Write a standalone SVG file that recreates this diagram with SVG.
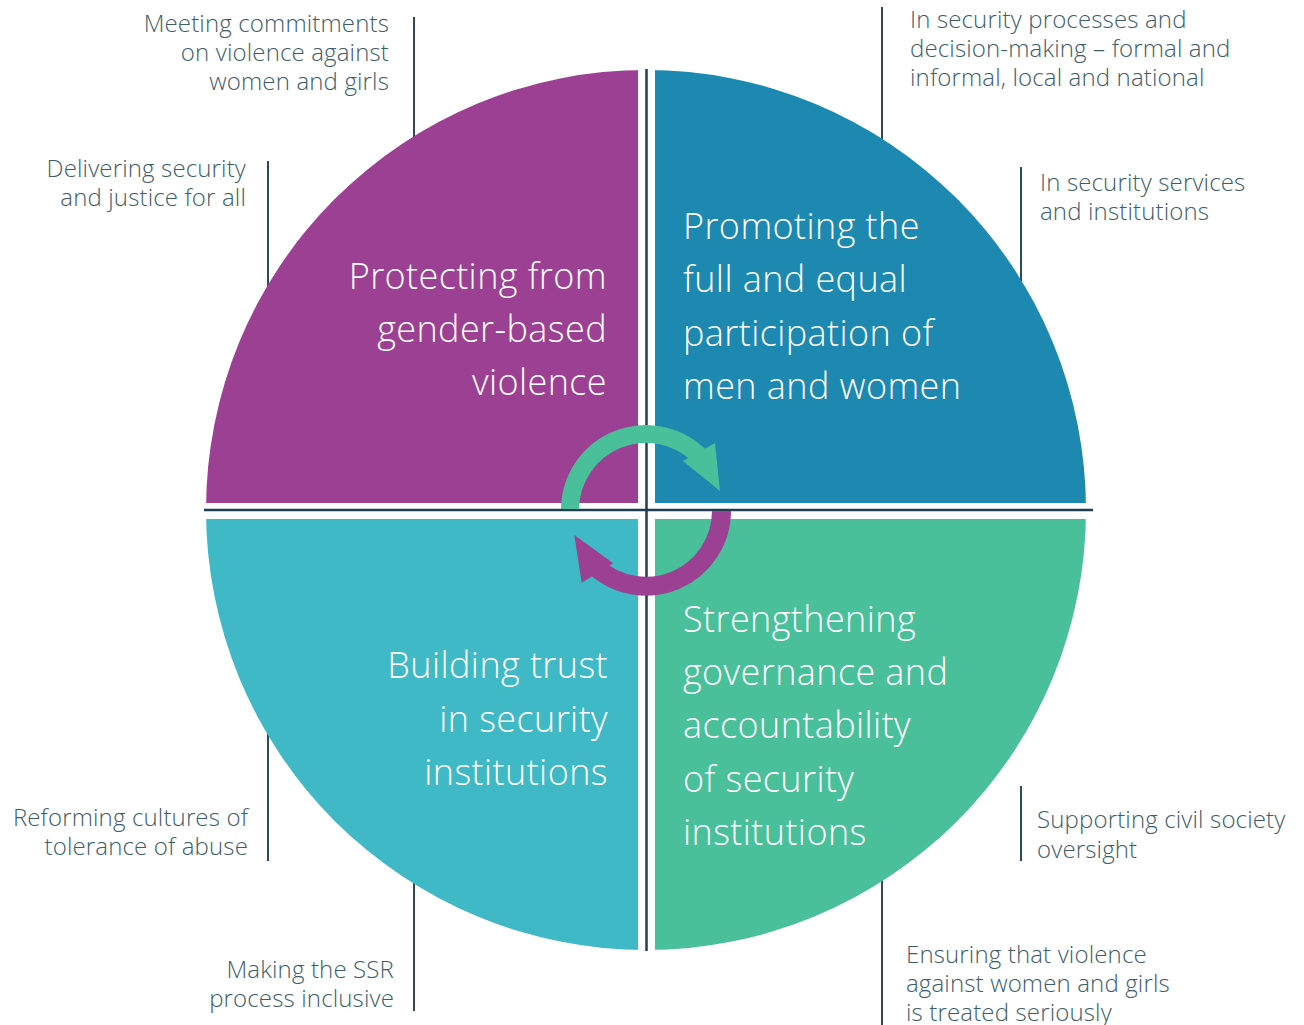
<svg xmlns="http://www.w3.org/2000/svg" width="1304" height="1025" viewBox="0 0 1304 1025">
<defs>
<style>
.lbl{font-family:"Open Sans","Liberation Sans",sans-serif;font-weight:300;font-size:24px;letter-spacing:0.15px;fill:#3e5d6b}
.big{font-family:"Open Sans","Liberation Sans",sans-serif;font-weight:300;font-size:36px;letter-spacing:0.4px;fill:#ffffff}
.r{text-anchor:end}
.tick{stroke:#2a4b5a;stroke-width:2;fill:none}
.divider{stroke:#1d3f4f;stroke-width:2.5;fill:none}
</style>
<clipPath id="circ"><circle cx="646" cy="510" r="440"/></clipPath>
</defs>
<rect width="1304" height="1025" fill="#ffffff"/>
<g id="connectors">
<line class="tick" x1="414" y1="17" x2="414" y2="140"/>
<line class="tick" x1="268" y1="161" x2="268" y2="290"/>
<line class="tick" x1="882" y1="7" x2="882" y2="142"/>
<line class="tick" x1="1021" y1="167" x2="1021" y2="284"/>
<line class="tick" x1="268" y1="730" x2="268" y2="861"/>
<line class="tick" x1="414" y1="880" x2="414" y2="1011"/>
<line class="tick" x1="1021" y1="786" x2="1021" y2="861"/>
<line class="tick" x1="882" y1="877" x2="882" y2="1025"/>
</g>
<g clip-path="url(#circ)">
<g id="q-protecting"><rect x="200" y="60" width="438" height="443" fill="#9c4094"/></g>
<g id="q-promoting"><rect x="655" y="60" width="440" height="443" fill="#1d89b0"/></g>
<g id="q-building"><rect x="200" y="519" width="438" height="440" fill="#3fb9c6"/></g>
<g id="q-strengthening"><rect x="655" y="519" width="440" height="440" fill="#49bf9a"/></g>
</g>
<line class="divider" x1="204" y1="510" x2="1093" y2="510"/>
<line class="divider" x1="646.5" y1="69" x2="646.5" y2="951"/>
<g id="cycle-arrows">
<path d="M570,509 A76,76 0 0 1 698.8,455.3" fill="none" stroke="#49bf9a" stroke-width="18"/>
<polygon points="683,461 715,443 720,491" fill="#49bf9a"/>
<path d="M721.5,511 A75.5,75.5 0 0 1 595.1,566.5" fill="none" stroke="#9c4094" stroke-width="19"/>
<polygon points="613.3,563.3 581.7,582.7 574.3,535" fill="#9c4094"/>
</g>
<g id="t-protecting">
<text class="big r" x="607" y="289">Protecting from</text>
<text class="big r" x="607" y="342">gender-based</text>
<text class="big r" x="607" y="395">violence</text>
</g>
<g id="t-promoting">
<text class="big" x="683" y="239">Promoting the</text>
<text class="big" x="683" y="292">full and equal</text>
<text class="big" x="683" y="346">participation of</text>
<text class="big" x="683" y="399">men and women</text>
</g>
<g id="t-building">
<text class="big r" x="608" y="678">Building trust</text>
<text class="big r" x="608" y="732">in security</text>
<text class="big r" x="608" y="785">institutions</text>
</g>
<g id="t-strengthening">
<text class="big" x="683" y="632">Strengthening</text>
<text class="big" x="683" y="685">governance and</text>
<text class="big" x="683" y="738">accountability</text>
<text class="big" x="683" y="792">of security</text>
<text class="big" x="683" y="845">institutions</text>
</g>
<g id="l-meeting">
<text class="lbl r" x="389" y="32">Meeting commitments</text>
<text class="lbl r" x="389" y="61">on violence against</text>
<text class="lbl r" x="389" y="90">women and girls</text>
</g>
<g id="l-delivering">
<text class="lbl r" x="246" y="177">Delivering security</text>
<text class="lbl r" x="246" y="206">and justice for all</text>
</g>
<g id="l-processes">
<text class="lbl" x="910" y="28">In security processes and</text>
<text class="lbl" x="910" y="57">decision-making – formal and</text>
<text class="lbl" x="910" y="86">informal, local and national</text>
</g>
<g id="l-services">
<text class="lbl" x="1040" y="191">In security services</text>
<text class="lbl" x="1040" y="220">and institutions</text>
</g>
<g id="l-reforming">
<text class="lbl r" x="248" y="826">Reforming cultures of</text>
<text class="lbl r" x="248" y="855">tolerance of abuse</text>
</g>
<g id="l-making">
<text class="lbl r" x="394" y="978">Making the SSR</text>
<text class="lbl r" x="394" y="1007">process inclusive</text>
</g>
<g id="l-supporting">
<text class="lbl" x="1037" y="828">Supporting civil society</text>
<text class="lbl" x="1037" y="858">oversight</text>
</g>
<g id="l-ensuring">
<text class="lbl" x="906" y="963">Ensuring that violence</text>
<text class="lbl" x="906" y="992">against women and girls</text>
<text class="lbl" x="906" y="1021">is treated seriously</text>
</g>
</svg>
